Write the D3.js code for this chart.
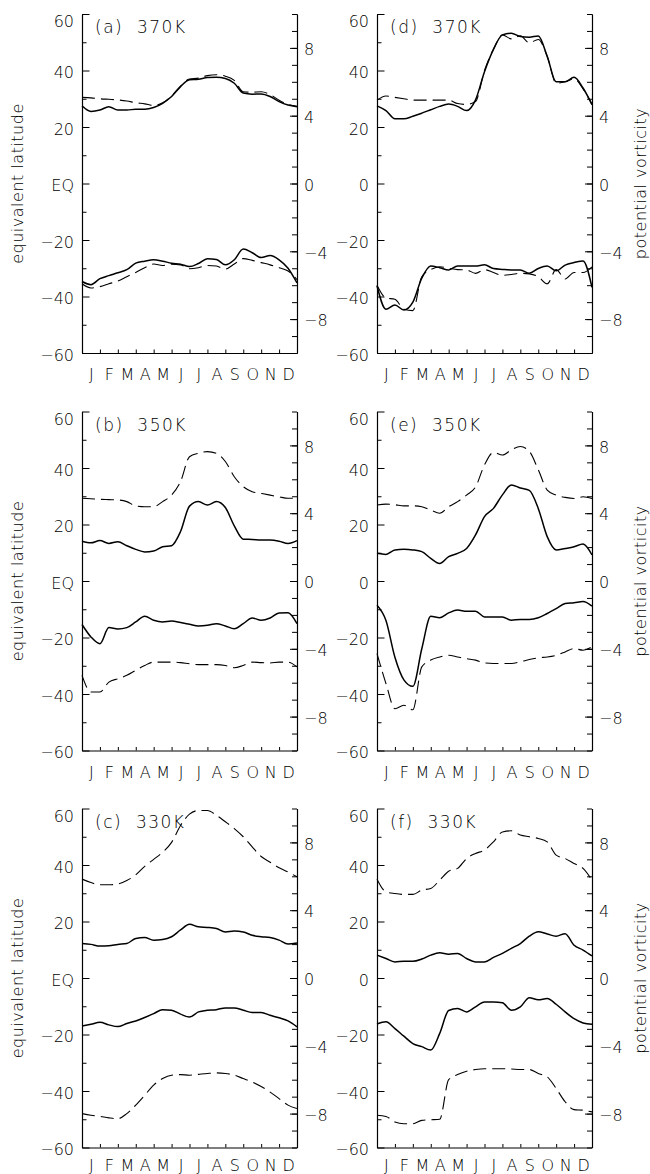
<!DOCTYPE html>
<html>
<head>
<meta charset="utf-8">
<script src="https://cdn.jsdelivr.net/npm/d3@7"></script>
<style>
  body { margin: 0; background: #fff; }
  svg text { font-family: "DejaVu Sans", "Liberation Sans", sans-serif; font-weight: 200; fill: #000; }
</style>
</head>
<body>
<div id="chart"></div>
<script>
// time axis in months (half-month steps)
const t = [0,0.5,1,1.5,2,2.5,3,3.5,4,4.5,5,5.5,6,6.5,7,7.5,8,8.5,9,9.5,10,10.5,11,11.5,12];
const months = ["J","F","M","A","M","J","J","A","S","O","N","D"];
const latTicks = [-60,-40,-20,0,20,40,60];
const pvTicks = [-8,-4,0,4,8];

// (a) 370K
const aSolidN = [27.5,25.5,26.0,27.2,26.0,26.0,26.3,26.3,26.9,28.4,30.8,34.3,36.7,36.9,37.5,37.6,37.2,35.5,32.0,31.6,31.7,30.8,29.0,27.8,27.2];
const aDashN  = [30.5,30.3,30.0,29.8,29.6,29.2,28.6,28.2,27.6,28.6,31.0,34.5,37.0,37.3,38.2,38.5,38.0,36.5,32.5,32.3,32.5,31.5,29.5,28.0,27.3];
const aSolidS = [-34.7,-35.8,-33.7,-32.6,-31.6,-30.5,-28.2,-27.5,-27.0,-27.5,-28.2,-28.6,-29.4,-28.3,-26.6,-26.9,-28.8,-27.0,-23.2,-24.5,-26.2,-25.5,-27.0,-30.0,-35.2];
const aDashS  = [-35.5,-37.0,-36.5,-35.5,-34.5,-33.0,-31.5,-29.8,-28.5,-29.0,-28.6,-28.8,-30.2,-29.8,-29.0,-29.2,-30.3,-28.5,-26.6,-27.2,-28.0,-28.8,-29.8,-31.0,-34.0];

// (b) 350K
const bSolidN = [14.1,13.5,14.3,13.3,13.9,12.5,11.2,10.3,10.6,12.1,12.5,17.5,26.5,28.1,26.9,28.1,26.0,19.5,14.8,14.7,14.5,14.5,14.1,13.3,14.3];
const bDashN  = [29.3,29.1,28.9,28.8,28.7,28.1,26.6,26.3,26.3,28.1,30.4,35.2,44.0,45.2,45.8,45.2,42.3,36.9,33.4,31.6,31.0,30.4,29.8,29.3,29.3];
const bSolidS = [-15.4,-19.8,-22.2,-16.5,-17.0,-16.5,-14.5,-12.5,-13.9,-14.5,-14.2,-14.7,-15.3,-15.9,-15.7,-15.1,-15.9,-16.9,-15.1,-13.1,-13.9,-13.1,-11.3,-11.2,-15.1];
const bDashS  = [-33.4,-39.3,-39.3,-35.8,-34.6,-33.4,-31.6,-29.9,-28.7,-28.7,-28.7,-28.9,-29.3,-29.6,-29.6,-29.6,-29.9,-30.7,-29.9,-28.7,-28.9,-29.0,-28.7,-28.7,-30.4];

// (c) 330K
const cSolidN = [12.2,11.9,11.3,11.4,11.9,12.2,14.0,14.3,13.4,13.6,14.6,17.0,19.0,18.1,17.9,17.5,16.3,16.6,16.3,15.1,14.6,14.3,13.4,12.0,12.4];
const cDashN  = [35.0,33.8,33.0,33.0,33.3,34.5,36.5,39.5,42.0,44.5,48.0,54.0,58.0,59.3,59.3,57.6,55.3,52.9,50.0,46.4,43.0,41.0,39.0,37.5,35.8];
const cSolidS = [-17.0,-16.4,-15.7,-16.6,-17.2,-16.1,-15.2,-14.0,-12.6,-11.2,-11.4,-12.8,-13.8,-12.0,-11.4,-11.2,-10.6,-10.6,-11.4,-12.2,-12.2,-13.2,-14.1,-15.2,-17.3];
const cDashS  = [-48.0,-48.6,-49.0,-49.5,-49.8,-48.0,-45.0,-41.5,-37.9,-35.6,-34.4,-34.2,-34.4,-34.1,-33.8,-33.6,-33.8,-34.4,-35.6,-36.8,-38.4,-40.4,-42.7,-45.0,-46.2];

// (d) 370K
const dSolidN = [27.5,25.8,22.9,22.9,23.8,24.9,26.1,27.3,28.1,27.3,25.8,29.6,39.6,47.5,52.6,53.2,52.0,51.8,52.2,45.0,36.0,36.0,37.6,33.8,27.9];
const dDashN  = [29.5,31.0,30.5,30.0,29.5,29.5,29.5,29.5,29.5,28.3,28.0,29.0,40.0,47.5,52.6,51.2,52.3,49.8,51.0,45.0,35.5,36.0,37.0,33.5,28.0];
const dSolidS = [-36.2,-44.5,-43.0,-44.8,-42.0,-33.5,-29.2,-29.8,-30.6,-29.2,-29.2,-29.2,-28.8,-30.1,-30.4,-30.6,-30.6,-31.8,-30.1,-29.2,-30.9,-28.9,-28.0,-27.4,-36.8];
const dDashS  = [-36.0,-40.5,-41.0,-44.5,-45.0,-33.0,-30.5,-29.5,-30.0,-30.5,-30.6,-31.8,-30.5,-31.5,-32.5,-32.2,-31.8,-32.0,-33.0,-35.5,-30.5,-33.8,-31.5,-31.5,-29.5];

// (e) 350K
const eSolidN = [9.8,9.4,11.0,11.2,11.0,10.4,8.0,6.2,8.6,9.8,11.5,16.3,22.8,25.7,30.5,34.0,32.9,32.1,25.7,15.7,11.0,11.5,12.1,13.1,9.2];
const eDashN  = [26.9,27.2,27.0,26.6,26.6,26.3,25.1,24.0,26.3,28.1,30.4,33.3,41.1,45.5,44.6,46.4,47.6,45.9,39.4,32.2,30.4,29.6,29.2,29.8,29.2];
const eSolidS = [-8.6,-14.0,-27.0,-35.0,-37.3,-24.0,-12.5,-13.0,-11.3,-10.3,-10.7,-10.7,-12.7,-12.7,-12.7,-13.9,-13.6,-13.6,-13.0,-11.5,-9.8,-8.0,-7.7,-7.3,-8.9];
const eDashS  = [-25.7,-36.3,-45.2,-44.0,-45.6,-30.4,-28.0,-26.9,-26.3,-26.9,-27.5,-28.0,-29.0,-29.2,-29.2,-29.2,-28.6,-27.8,-27.2,-26.9,-26.3,-25.1,-23.9,-24.5,-23.3];

// (f) 330K
const fSolidN = [8.1,6.9,5.7,5.9,5.9,6.7,8.1,8.9,8.4,8.7,6.9,5.7,5.7,7.3,8.7,10.5,12.2,14.8,16.4,15.6,14.8,15.7,11.6,9.9,7.8];
const fDashN  = [35.0,30.5,29.9,29.6,29.6,31.1,31.7,34.6,37.8,38.8,42.3,44.1,45.3,48.2,51.7,52.1,50.6,50.0,49.4,48.2,43.5,42.3,40.5,38.8,34.6];
const fSolidS = [-16.3,-15.5,-17.9,-20.6,-23.2,-24.3,-25.5,-19.6,-11.5,-10.8,-12.0,-10.2,-8.5,-8.5,-8.8,-11.4,-10.2,-7.0,-7.7,-7.3,-9.3,-12.0,-14.4,-15.9,-16.4];
const fDashS  = [-48.6,-49.0,-51.0,-51.6,-51.6,-50.4,-50.2,-50.0,-36.0,-34.2,-33.0,-32.4,-32.1,-32.1,-32.1,-32.2,-32.4,-32.4,-33.8,-35.0,-39.1,-43.8,-46.6,-46.8,-47.4];

const panels = [
  {label: "(a)\u00a0\u00a0370K", col: 0, row: 0, solid: [aSolidN, aSolidS], dash: [aDashN, aDashS]},
  {label: "(b)\u00a0\u00a0350K", col: 0, row: 1, solid: [bSolidN, bSolidS], dash: [bDashN, bDashS]},
  {label: "(c)\u00a0\u00a0330K", col: 0, row: 2, solid: [cSolidN, cSolidS], dash: [cDashN, cDashS]},
  {label: "(d)\u00a0\u00a0370K", col: 1, row: 0, solid: [dSolidN, dSolidS], dash: [dDashN, dDashS]},
  {label: "(e)\u00a0\u00a0350K", col: 1, row: 1, solid: [eSolidN, eSolidS], dash: [eDashN, eDashS]},
  {label: "(f)\u00a0\u00a0330K", col: 1, row: 2, solid: [fSolidN, fSolidS], dash: [fDashN, fDashS]}
];

const width = 650, height = 1174;
const colX = [82, 377], rowY = [14, 411.5, 808.5];
const pw = 215, ph = 339;

const svg = d3.select("#chart").append("svg")
    .attr("width", width)
    .attr("height", height);

panels.forEach(function(p) {
    const g = svg.append("g")
        .attr("transform", `translate(${colX[p.col]}, ${rowY[p.row]})`);

    const x = d3.scaleLinear().domain([0, 12]).range([0, pw]);
    const y = d3.scaleLinear().domain([-60, 60]).range([ph, 0]);
    const pv = d3.scaleLinear().domain([-10, 10]).range([ph, 0]);

    // left axis, minor then major
    g.append("g")
        .call(d3.axisLeft(y).tickValues(d3.range(-50, 60, 20)).tickSizeInner(-4.5).tickSizeOuter(0).tickFormat(""));
    const left = g.append("g")
        .call(d3.axisLeft(y).tickValues(latTicks).tickSizeInner(-7.5).tickSizeOuter(0).tickPadding(8)
            .tickFormat(d => (d === 0 && p.col === 0) ? "EQ" : d3.format("")(d)));
    left.selectAll("text").style("font-size", "16px")
        .attr("dy", d => d === 60 ? "0.8em" : "0.45em");

    // right axis
    const right = g.append("g").attr("transform", `translate(${pw},0)`);
    right.append("g")
        .call(d3.axisRight(pv).tickValues(d3.range(-10, 11, 1)).tickSizeInner(-5).tickSizeOuter(0).tickFormat(""));
    right.append("g")
        .call(d3.axisRight(pv).tickValues(pvTicks).tickSizeInner(-7).tickSizeOuter(0).tickPadding(7))
        .selectAll("text").style("font-size", "16px").attr("dy", "0.42em");

    // bottom axis
    g.append("g").attr("transform", `translate(0,${ph})`)
        .call(d3.axisBottom(x).tickValues(d3.range(1, 12)).tickSizeInner(-3.5).tickSizeOuter(0).tickFormat(""));
    g.append("g").attr("transform", `translate(0,${ph})`)
        .call(d3.axisBottom(x).tickValues(months.map((m, i) => i + 0.5)).tickSize(0)
            .tickPadding(p.row === 2 ? 12 : 16)
            .tickFormat((d, i) => months[i]))
        .call(a => a.select(".domain").remove())
        .selectAll("text").style("font-size", "16px");

    g.selectAll(".domain").attr("stroke-width", 1.1);
    g.selectAll(".tick line").attr("stroke-width", 1);

    const line = d3.line()
        .x((d, i) => x(t[i]))
        .y(d => y(d))
        .curve(d3.curveMonotoneX);

    p.dash.forEach(function(s) {
        g.append("path").datum(s)
            .attr("d", line)
            .attr("fill", "none")
            .attr("stroke", "#000")
            .attr("stroke-width", 1.1)
            .attr("stroke-dasharray", "13,6");
    });
    p.solid.forEach(function(s) {
        g.append("path").datum(s)
            .attr("d", line)
            .attr("fill", "none")
            .attr("stroke", "#000")
            .attr("stroke-width", 1.5);
    });

    g.append("text")
        .attr("x", 13)
        .attr("y", 19)
        .style("font-size", "17px")
        .style("letter-spacing", "1.5px")
        .text(p.label);

    if (p.col === 0) {
        svg.append("text")
            .attr("transform", `translate(23, ${rowY[p.row] + ph / 2}) rotate(-90)`)
            .attr("text-anchor", "middle")
            .style("font-size", "16px")
            .style("letter-spacing", "0.5px")
            .text("equivalent latitude");
    } else {
        svg.append("text")
            .attr("transform", `translate(646, ${rowY[p.row] + ph / 2}) rotate(-90)`)
            .attr("text-anchor", "middle")
            .style("font-size", "16px")
            .style("letter-spacing", "0.5px")
            .text("potential vorticity");
    }
});
</script>
</body>
</html>
